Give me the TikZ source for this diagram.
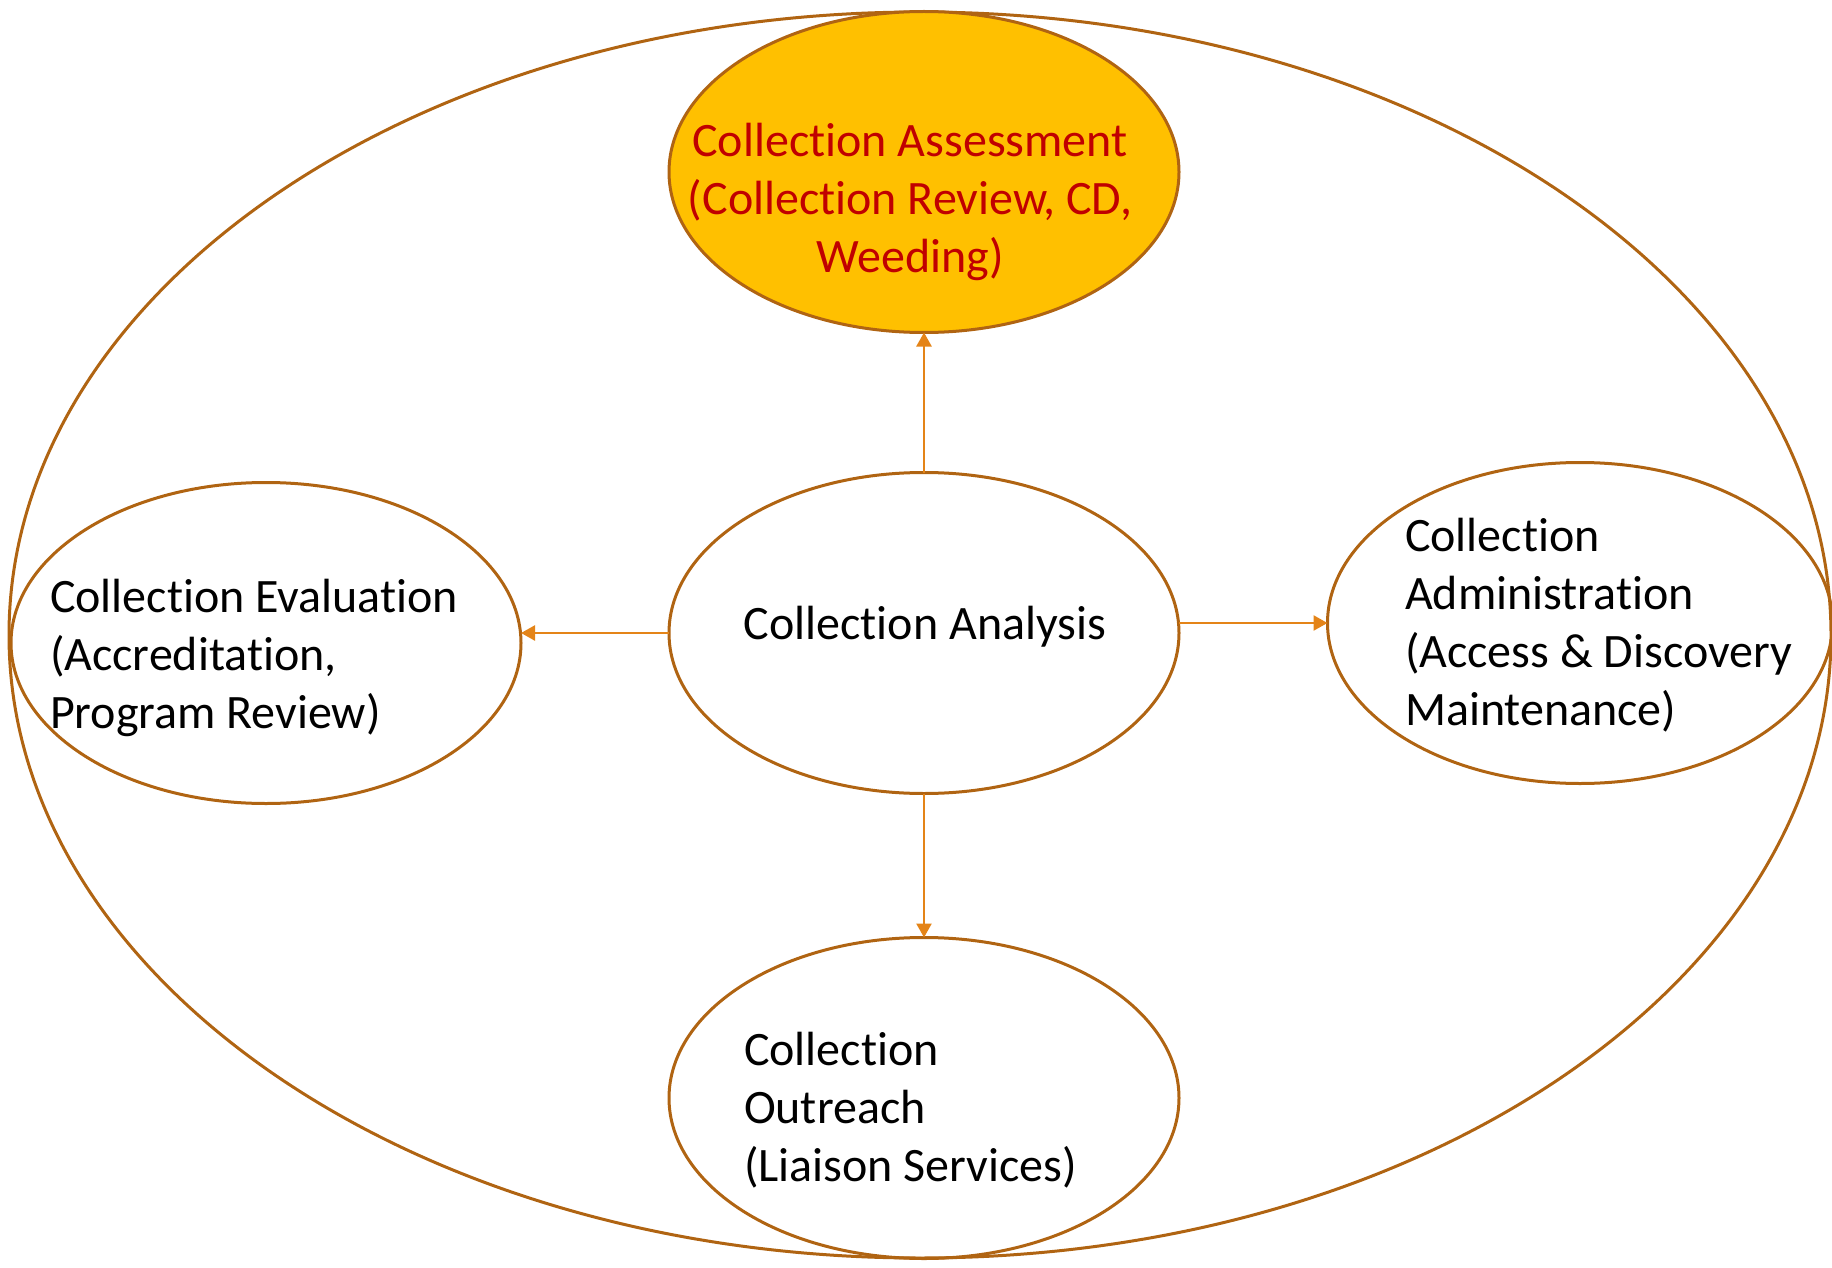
\documentclass[tikz,border=0pt]{standalone}
\usepackage{fontspec}
\setmainfont{Carlito}[Ligatures=CommonOff]
\usetikzlibrary{shapes.geometric,arrows.meta}
\definecolor{ringc}{RGB}{176,100,18}
\definecolor{arrowc}{RGB}{228,132,24}
\definecolor{goldfill}{RGB}{255,192,0}
\definecolor{redtxt}{RGB}{192,0,0}
\tikzset{
  bubble/.style={ellipse, draw=ringc, line width=3pt, inner sep=0pt, outer sep=0pt,
    minimum width=510pt, minimum height=321pt},
  label/.style={inner sep=0pt, outer sep=0pt, font=\fontsize{48}{58}\selectfont},
  link/.style={draw=arrowc, line width=2.5pt, -{Triangle[width=15pt,length=14pt]}}
}
\begin{document}
\begin{tikzpicture}[x=1pt,y=-1pt]
\useasboundingbox (0,0) rectangle (1832,1268);
\node[bubble, minimum width=1822pt, minimum height=1246pt] (outer) at (920,635) {};
\node[bubble, fill=goldfill] (assess) at (924,172) {};
\node[bubble] (ana) at (924,633) {};
\node[bubble] (eval) at (266,643) {};
\node[bubble, minimum width=505pt] (admin) at (1580,623) {};
\node[bubble] (outr) at (924,1098) {};
\node[label, anchor=north, align=center, text=redtxt] (tA) at (910,116.4)
  {\strut Collection Assessment\\(Collection Review, CD,\\Weeding)};
\node[label, anchor=base] (tB) at (925,639) {Collection Analysis};
\node[label, anchor=north west, align=left] (tC) at (50,571.4)
  {\strut Collection Evaluation\\(Accreditation,\\Program Review)};
\node[label, anchor=north west, align=left] (tD) at (1405,510.4)
  {\strut Collection\\Administration\\(Access \& Discovery\\Maintenance)};
\node[label, anchor=north west, align=left] (tE) at (744,1024.4)
  {\strut Collection\\Outreach\\(Liaison Services)};
\draw[link] (ana.north) -- (assess.south);
\draw[link] (ana.west) -- (ana.west -| eval.east);
\draw[link] (ana.east |- admin.west) -- (admin.west);
\draw[link] (ana.south) -- (outr.north);
\end{tikzpicture}
\end{document}
